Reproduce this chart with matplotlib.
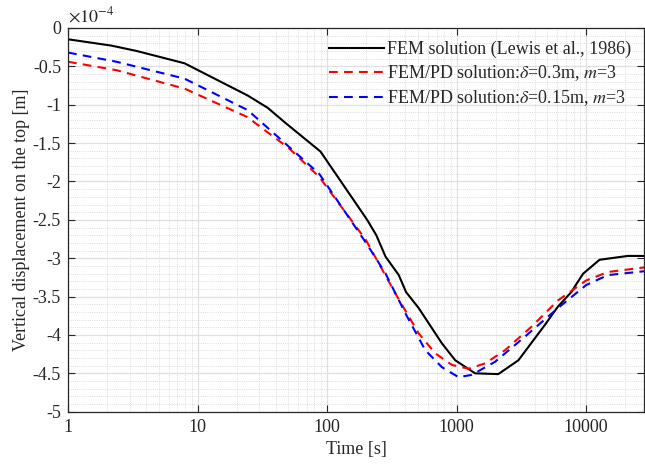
import numpy as np
import matplotlib
matplotlib.use("Agg")
import matplotlib.pyplot as plt
from matplotlib.ticker import FixedLocator, FuncFormatter, NullFormatter, LogLocator

plt.rcParams['font.family'] = ['Liberation Serif', 'DejaVu Serif']
plt.rcParams['mathtext.fontset'] = 'stix'
plt.rcParams['axes.unicode_minus'] = False

# data (displacement in units of 1e-4 m)
t_fem = [1, 2.17, 3.4, 7.94, 24.4, 34.8, 48, 89, 204, 240, 283, 358, 407, 510, 771, 977,
         1390, 2100, 3000, 4800, 6060, 7700, 8460, 9500, 12700, 21000, 28000]
u_fem = [-0.147, -0.23, -0.30, -0.46, -0.88, -1.04, -1.24, -1.61, -2.50, -2.70, -2.98, -3.22,
         -3.44, -3.65, -4.11, -4.33, -4.50, -4.51, -4.33, -3.87, -3.63, -3.44, -3.33, -3.20,
         -3.02, -2.97, -2.97]

t_pd03 = [1, 2.37, 7.94, 24.2, 51, 87, 199, 337, 510, 685, 920, 1240, 1660, 2360, 3800,
          6060, 10000, 14700, 28000]
u_pd03 = [-0.44, -0.55, -0.79, -1.16, -1.57, -1.94, -2.76, -3.46, -3.98, -4.24, -4.39, -4.44,
          -4.37, -4.20, -3.89, -3.55, -3.29, -3.18, -3.12]

t_pd015 = [1, 2.37, 7.94, 24.4, 51, 87, 200, 283, 403, 574, 771, 1036, 1310, 1980, 3380,
           6060, 10000, 14700, 28000]
u_pd015 = [-0.32, -0.44, -0.66, -1.07, -1.55, -1.90, -2.80, -3.20, -3.72, -4.20, -4.42, -4.55,
           -4.52, -4.35, -4.02, -3.65, -3.35, -3.22, -3.17]

x_ticks = [1, 10, 100, 1000, 10000]
y_ticks = [0, -0.5, -1, -1.5, -2, -2.5, -3, -3.5, -4, -4.5, -5]

txt = '#262626'
fs = 13
fig = plt.figure(figsize=(6.45, 4.65), dpi=100)
ax = fig.add_axes([0.1054, 0.1146, 0.8931, 0.8252])

ax.plot(t_fem, u_fem, color='black', lw=1.5, label='FEM solution (Lewis et al., 1986)')
l1, = ax.plot(t_pd03, u_pd03, color='red', lw=1.5, ls='--',
              label=r'FEM/PD solution:$\delta$=0.3m, $m$=3')
l2, = ax.plot(t_pd015, u_pd015, color='blue', lw=1.5, ls='--',
              label=r'FEM/PD solution:$\delta$=0.15m, $m$=3')
for l in (l1, l2):
    l.set_dashes((4.2, 3.0))

ax.set_xscale('log')
ax.set_xlim(1, 28000)
ax.set_ylim(-5, 0)
ax.xaxis.set_major_locator(FixedLocator(x_ticks))
ax.xaxis.set_major_formatter(FuncFormatter(lambda v, p: '%d' % v))
ax.xaxis.set_minor_locator(LogLocator(base=10, subs=np.arange(2, 10), numticks=20))
ax.xaxis.set_minor_formatter(NullFormatter())
ax.yaxis.set_major_locator(FixedLocator(y_ticks))
ax.yaxis.set_major_formatter(FuncFormatter(lambda v, p: ('%g' % v) if v != 0 else '0'))
ax.yaxis.set_minor_locator(FixedLocator(np.arange(-5, 0.01, 0.1)))

ax.tick_params(which='major', direction='in', length=5, top=True, right=True,
               labelsize=fs, colors=txt, width=0.8, pad=5)
ax.tick_params(which='minor', length=0, top=True, right=True)
for s in ax.spines.values():
    s.set_color(txt)
    s.set_linewidth(0.9)

ax.grid(which='major', color='#e0e0e0', lw=0.9, ls='-')
ax.grid(which='minor', color='#d4d4d4', lw=0.6, ls=(0, (1, 1.6)))
ax.set_axisbelow(True)

ax.set_xlabel('Time [s]', fontsize=fs, color=txt, labelpad=4)
ax.set_ylabel('Vertical displacement on the top [m]', fontsize=fs, color=txt, labelpad=2)
ax.text(0.0, 1.005, r'$\times10^{-4}$', transform=ax.transAxes, fontsize=fs, color=txt,
        ha='left', va='bottom')

leg = ax.legend(loc='upper right', fontsize=fs, frameon=False, handlelength=3.0,
                handletextpad=0.2, labelspacing=0.3, borderaxespad=0.3,
                bbox_to_anchor=(1.0, 1.0))
for t in leg.get_texts():
    t.set_color(txt)

fig.savefig('out.png', dpi=100)
